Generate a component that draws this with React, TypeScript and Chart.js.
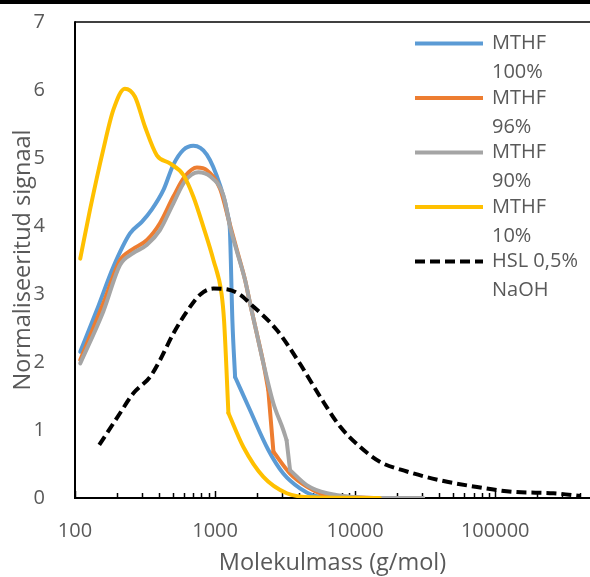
import React, { useEffect, useRef } from "react";
import { Chart, registerables } from "chart.js";

Chart.register(...registerables);

// ---- Data (molecular mass g/mol, normalised signal) ----
const seriesNames: string[][] = [
  ["MTHF", "100%"],
  ["MTHF", "96%"],
  ["MTHF", "90%"],
  ["MTHF", "10%"],
  ["HSL 0,5%", "NaOH"],
];

const mthf100M = [109, 143, 188, 247, 300, 353, 428, 503, 594, 700, 873, 1084, 1240, 1276, 1330, 1390, 1778, 2395, 3070, 4040, 5000, 6600, 10000];
const mthf100V = [2.15, 2.76, 3.4, 3.89, 4.06, 4.24, 4.53, 4.9, 5.12, 5.18, 5.05, 4.6, 4.14, 3.94, 2.6, 1.78, 1.29, 0.71, 0.36, 0.14, 0.04, 0.01, 0];
const mthf100Corners = [1390];

const mthf96M = [109, 159, 210, 254, 325, 404, 503, 610, 742, 873, 1084, 1276, 1430, 1640, 1778, 1970, 2214, 2398, 2610, 3430, 4510, 6300, 15000];
const mthf96V = [2.03, 2.86, 3.5, 3.65, 3.79, 4.04, 4.43, 4.73, 4.86, 4.82, 4.55, 4.02, 3.65, 3.2, 2.86, 2.45, 1.98, 1.59, 0.68, 0.36, 0.17, 0.04, 0];
const mthf96Corners = [2398, 2610];

const mthf90M = [109, 159, 210, 260, 325, 404, 503, 610, 760, 921, 1146, 1276, 1430, 1640, 1778, 1970, 2214, 2610, 3070, 3240, 3430, 4510, 6300, 15000, 30600];
const mthf90V = [1.98, 2.74, 3.43, 3.6, 3.72, 3.94, 4.33, 4.66, 4.79, 4.73, 4.45, 4.0, 3.63, 3.2, 2.86, 2.45, 1.98, 1.39, 1.0, 0.85, 0.41, 0.19, 0.07, 0, 0];
const mthf90Corners = [3240, 3430];

const mthf10M = [109, 128, 159, 188, 227, 268, 316, 384, 476, 594, 700, 824, 973, 1113, 1160, 1245, 1592, 2213, 3250, 5000, 15000];
const mthf10V = [3.52, 4.24, 5.12, 5.71, 6.02, 5.9, 5.46, 5.04, 4.92, 4.75, 4.43, 3.99, 3.5, 3.0, 2.6, 1.25, 0.75, 0.31, 0.07, 0.01, 0];
const mthf10Corners = [1245];

const hslM = [149, 210, 261, 343, 405, 504, 628, 781, 973, 1213, 1509, 1778, 2760, 4050, 5620, 7810, 10860, 15100, 23400, 40500, 70000, 135000, 261000, 405000];
const hslV = [0.78, 1.25, 1.54, 1.78, 2.03, 2.42, 2.74, 2.99, 3.08, 3.07, 2.99, 2.86, 2.47, 1.97, 1.49, 1.05, 0.75, 0.53, 0.39, 0.26, 0.17, 0.09, 0.07, 0.03];
const hslCorners: number[] = [];

const xTickLabels = [100, 1000, 10000, 100000];
const xMin = 100;
const xMax = 475000;
const yMin = 0;
const yMax = 7;

const seriesColors = ["#5B9BD5", "#ED7D31", "#A5A5A5", "#FFC000", "#000000"];
const FONT = "'Open Sans', 'Liberation Sans', sans-serif";
const TEXT_COLOR = "#595959";

// split a series into smooth pieces at its sharp corners (pieces share the corner point)
const splitAtCorners = (m: number[], v: number[], corners: number[]) => {
  const pieces: { x: number; y: number }[][] = [];
  let cur: { x: number; y: number }[] = [];
  m.forEach((x, i) => {
    cur.push({ x, y: v[i] });
    if (corners.includes(x) && i > 0 && i < m.length - 1) {
      pieces.push(cur);
      cur = [{ x, y: v[i] }];
    }
  });
  pieces.push(cur);
  return pieces;
};

const frame = {
  id: "frame",
  beforeDatasetsDraw(chart: any) {
    const { ctx, chartArea } = chart;
    const { left, right, top, bottom } = chartArea;
    const xs = chart.scales.x;
    ctx.save();
    ctx.strokeStyle = "#000";
    ctx.lineWidth = 1.5;
    ctx.beginPath();
    ctx.moveTo(left, top);
    ctx.lineTo(right, top);
    ctx.stroke();
    ctx.lineWidth = 2;
    ctx.beginPath();
    ctx.moveTo(left, top - 0.75);
    ctx.lineTo(left, bottom);
    ctx.lineTo(right, bottom);
    ctx.stroke();
    ctx.lineWidth = 1.5;
    for (let e = 2; e <= 6; e++) {
      for (let k = 1; k <= 9; k++) {
        const v = k * Math.pow(10, e);
        if (v < xMin || v > xMax) continue;
        const px = Math.round(xs.getPixelForValue(v)) + 0.5;
        const len = k === 1 ? 7 : 5;
        ctx.beginPath();
        ctx.moveTo(px, bottom);
        ctx.lineTo(px, bottom - len);
        ctx.stroke();
      }
    }
    ctx.restore();
  },
};

const legend = {
  id: "customLegend",
  afterDraw(chart: any) {
    const { ctx } = chart;
    const x0 = 415;
    const x1 = 483;
    const tx = 492;
    const firstY = 43.5;
    const step = 54.5;
    const lineGap = 29;
    ctx.save();
    ctx.font = `20px ${FONT}`;
    ctx.textBaseline = "middle";
    ctx.textAlign = "left";
    seriesNames.forEach((lines, i) => {
      const y = firstY + i * step;
      ctx.strokeStyle = seriesColors[i];
      ctx.lineWidth = 4;
      ctx.setLineDash(i === 4 ? [10, 5] : []);
      ctx.beginPath();
      ctx.moveTo(x0, y);
      ctx.lineTo(x1, y);
      ctx.stroke();
      ctx.setLineDash([]);
      ctx.fillStyle = TEXT_COLOR;
      lines.forEach((t, j) => ctx.fillText(t, tx, y + j * lineGap));
    });
    ctx.restore();
  },
};

export default function App() {
  const canvasRef = useRef<HTMLCanvasElement | null>(null);

  useEffect(() => {
    document.body.style.margin = "0";
    document.body.style.overflow = "hidden";
    const canvas = canvasRef.current;
    if (!canvas) return;

    const series = [
      { m: mthf100M, v: mthf100V, c: mthf100Corners, order: 4 },
      { m: mthf96M, v: mthf96V, c: mthf96Corners, order: 3 },
      { m: mthf90M, v: mthf90V, c: mthf90Corners, order: 2 },
      { m: mthf10M, v: mthf10V, c: mthf10Corners, order: 1 },
      { m: hslM, v: hslV, c: hslCorners, order: 0 },
    ];

    const datasets: any[] = [];
    series.forEach((s, i) => {
      splitAtCorners(s.m, s.v, s.c).forEach((piece) => {
        datasets.push({
          label: seriesNames[i].join(" "),
          data: piece,
          borderColor: seriesColors[i],
          backgroundColor: seriesColors[i],
          borderWidth: 4,
          borderDash: i === 4 ? [10, 5] : [],
          borderCapStyle: i === 4 ? "butt" : "round",
          borderJoinStyle: "round",
          pointRadius: 0,
          fill: false,
          cubicInterpolationMode: "monotone",
          order: s.order,
        });
      });
    });

    const chart = new Chart(canvas, {
      type: "line",
      data: { datasets },
      options: {
        responsive: false,
        animation: false,
        events: [],
        layout: { padding: { top: 22, left: 0, right: 0, bottom: 0 } },
        plugins: {
          legend: { display: false },
          tooltip: { enabled: false },
        },
        scales: {
          x: {
            type: "logarithmic",
            min: xMin,
            max: xMax,
            grid: { display: false },
            border: { display: false },
            afterBuildTicks: (scale: any) => {
              scale.ticks = xTickLabels.map((v) => ({ value: v, major: true }));
            },
            afterFit: (scale: any) => {
              scale.height = 79;
              scale.paddingLeft = 0;
              scale.paddingRight = 0;
            },
            ticks: {
              autoSkip: false,
              maxRotation: 0,
              padding: 13,
              color: TEXT_COLOR,
              font: { family: FONT, size: 20 },
              callback: (v: any) => String(v),
            },
            title: {
              display: true,
              text: "Molekulmass (g/mol)",
              color: TEXT_COLOR,
              font: { family: FONT, size: 23.5 },
              padding: { top: 0, bottom: 0 },
            },
          },
          y: {
            min: yMin,
            max: yMax,
            grid: { display: false },
            border: { display: false },
            afterFit: (scale: any) => {
              scale.width = 75;
              scale.paddingTop = 0;
              scale.paddingBottom = 0;
            },
            ticks: {
              stepSize: 1,
              padding: 22,
              color: TEXT_COLOR,
              font: { family: FONT, size: 20 },
            },
            title: {
              display: true,
              text: "Normaliseeritud signaal",
              color: TEXT_COLOR,
              font: { family: FONT, size: 23.5 },
              padding: { top: 9, bottom: 0 },
            },
          },
        },
      },
      plugins: [frame, legend],
    });

    return () => chart.destroy();
  }, []);

  return (
    <div style={{ position: "relative", width: 590, height: 577, background: "#fff" }}>
      <canvas ref={canvasRef} width={590} height={577} style={{ display: "block" }} />
      <div style={{ position: "absolute", left: 0, top: 0, width: 590, height: 4, background: "#000" }} />
    </div>
  );
}
